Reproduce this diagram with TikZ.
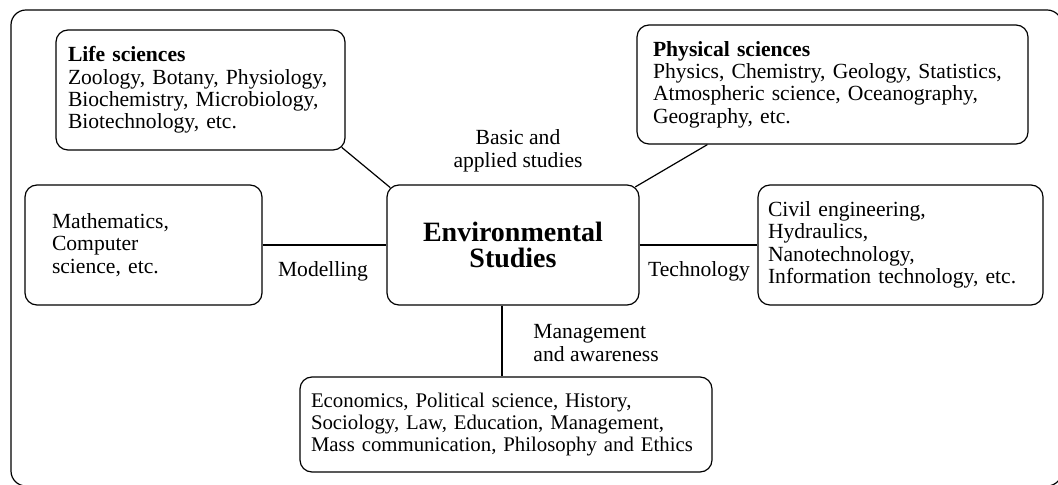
\documentclass[tikz,border=0pt]{standalone}
\usepackage{fontspec}
\setmainfont{Liberation Serif}
\usetikzlibrary{positioning}

\tikzset{
  box/.style={draw, rounded corners=6pt, line width=0.6pt, align=left,
    minimum height=60pt, font=\fontsize{10.8}{11.2}\selectfont},
  lbl/.style={align=left, inner sep=0pt, font=\fontsize{10.8}{11.5}\selectfont},
  link/.style={line width=0.6pt},
}

\begin{document}
\begin{tikzpicture}[x=0.5pt,y=-0.5pt]

%%%%%%%%%%%%%%%%%%%%%%%%%%%%%%%%%%%%%%%%%%%%%%%%%%%%%%%%%%%%%%%%%
\useasboundingbox (0,0) rectangle (1058,485);
\clip (0,0) rectangle (1058,485);
\draw [link, rounded corners=7.5pt] (11,10) rectangle (1062,486);

%%%%%%%%%%%%%%%%%%%%%%%%%%%%%%
\node [box, align=center, minimum width=126pt,
  font=\fontsize{14}{12.8}\selectfont\bfseries] (env) at (513,245) {Environmental\\Studies};

\node [box, text width=132.5pt, inner xsep=6pt] (life) at (200.5,90)
  {\textbf{Life sciences}\\Zoology, Botany, Physiology,\\Biochemistry, Microbiology,\\Biotechnology, etc.};
\draw [link, shorten <=-2.5pt, shorten >=-2.5pt] (life.south east) -- (env.north west);

\node [box, text width=179.5pt, inner xsep=8pt, minimum height=59.5pt] (phys) at (832.5,84.5)
  {\textbf{Physical sciences}\\Physics, Chemistry, Geology, Statistics,\\Atmospheric science, Oceanography,\\Geography, etc.};
\draw [link, shorten >=-2.5pt] ([xshift=35.5pt]phys.south west) -- (env.north east);

\node [lbl, align=center, anchor=base] (basic) at (518,168) {Basic and\\applied studies};


\node [box, text width=91.5pt, inner xsep=13.5pt] (math) at (143.5,245)
  {Mathematics,\\Computer\\science, etc.};
\draw [link] (math.east) -- (env.west);
\node [lbl, anchor=base] (model) at (323,277) {Modelling};


\node [box, text width=132.5pt, inner xsep=5pt] (tech) at (900.5,245)
  {Civil engineering,\\Hydraulics,\\Nanotechnology,\\Information technology, etc.};
\draw [link] (env.east) -- (tech.west);
\node [lbl, anchor=base] (techlbl) at (699,277) {Technology};


\node [box, text width=195pt, inner xsep=5.5pt, minimum height=47.5pt,
  font=\fontsize{10.4}{11.2}\selectfont] (mgmt) at (506,424.5)
  {Economics, Political science, History,\\Sociology, Law, Education, Management,\\Mass communication, Philosophy and Ethics};
\draw [link] ([xshift=-5.5pt]env.south) -- ([xshift=-5.5pt]env.south |- mgmt.north);
\node [lbl, anchor=base west] (aware) at (533,362) {Management\\and awareness};

%%%%%%%%%%%%%%%%%%%%%%%%%%%%%%%%%%%%%%%%%%%%%%%%%%%%%%%%%%%%%%%%%

\end{tikzpicture}
\end{document}
